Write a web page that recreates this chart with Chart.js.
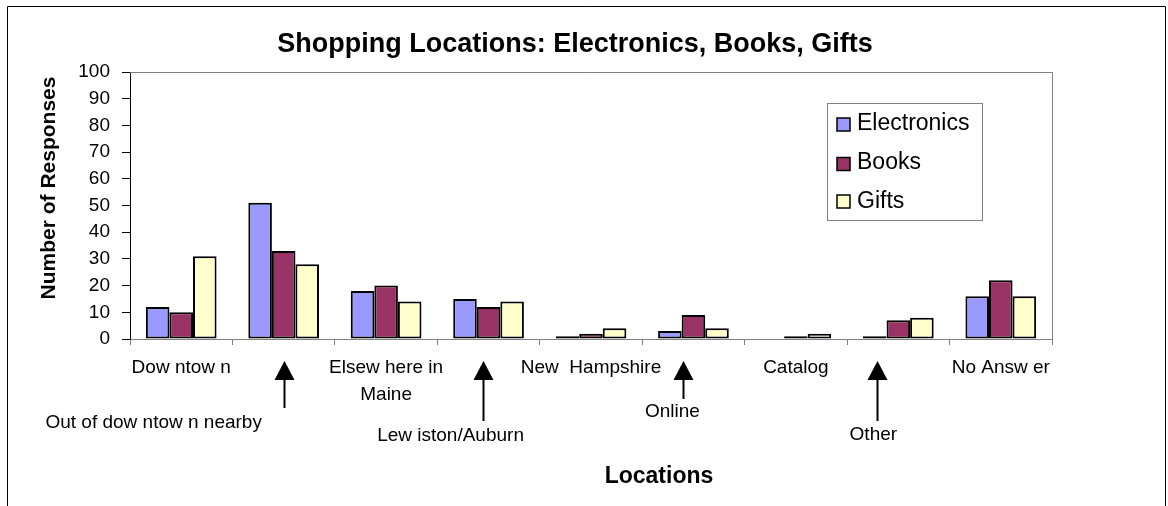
<!DOCTYPE html>
<html>
<head>
<meta charset="utf-8">
<script src="https://cdn.jsdelivr.net/npm/chart.js@4"></script>
<style>
  html, body { margin: 0; padding: 0; background: #ffffff; }
  #wrap { width: 1168px; height: 506px; position: relative; }
</style>
</head>
<body>
<div id="wrap"><canvas id="c" width="1168" height="506"></canvas></div>
<script>
// ---- data ----
const categories = [
  'Dow ntow n',
  'Out of dow ntow n nearby',
  ['Elsew here in', 'Maine'],
  'Lew iston/Auburn',
  'New  Hampshire',
  'Online',
  'Catalog',
  'Other',
  'No Answ er'
];
const seriesNames = ['Electronics', 'Books', 'Gifts'];
const electronics = [12, 51, 18, 15, 1, 3, 0, 1, 16];
const books       = [10, 33, 20, 12, 2, 9, 1, 7, 22];
const gifts       = [31, 28, 14, 14, 4, 4, 2, 8, 16];
const yTicks = [0, 10, 20, 30, 40, 50, 60, 70, 80, 90, 100];
const chartTitle = 'Shopping Locations: Electronics, Books, Gifts';
const yTitle = 'Number of Responses';
const xTitle = 'Locations';

// ---- styles ----
const colors = ['#9999FF', '#993366', '#FFFFCC'];
const FONT = "'Liberation Sans', Arial, sans-serif";

// arrow annotations for the categories whose labels sit below the axis
const annot = {
  1: { arrowDx: 0,   lineEnd: 408, textDx: -130, textY: 423 },
  3: { arrowDx: -6,  lineEnd: 421, textDx: -38,  textY: 436 },
  5: { arrowDx: -10, lineEnd: 399, textDx: -21,  textY: 412 },
  7: { arrowDx: -21, lineEnd: 421, textDx: -25,  textY: 435 }
};

function labelText(l) { return Array.isArray(l) ? l.join(' ') : l; }

const decor = {
  id: 'decor',
  beforeDraw(chart) {
    const ctx = chart.ctx;
    ctx.save();
    ctx.fillStyle = '#ffffff';
    ctx.fillRect(0, 0, chart.width, chart.height);
    ctx.strokeStyle = '#000000';
    ctx.lineWidth = 1;
    ctx.beginPath();
    ctx.moveTo(7.5, 520);
    ctx.lineTo(7.5, 6.5);
    ctx.lineTo(1165.5, 6.5);
    ctx.lineTo(1165.5, 520);
    ctx.stroke();
    ctx.restore();
  },
  afterDraw(chart) {
    const ctx = chart.ctx;
    const ca = chart.chartArea;
    const x = chart.scales.x;
    ctx.save();
    // plot area border (top and right), gray
    ctx.strokeStyle = '#808080';
    ctx.lineWidth = 1;
    ctx.beginPath();
    ctx.moveTo(ca.left, Math.round(ca.top) + 0.5);
    ctx.lineTo(Math.round(ca.right) + 0.5, Math.round(ca.top) + 0.5);
    ctx.lineTo(Math.round(ca.right) + 0.5, ca.bottom);
    ctx.stroke();

    // title
    ctx.fillStyle = '#000000';
    ctx.font = 'bold 27px ' + FONT;
    ctx.textAlign = 'center';
    ctx.textBaseline = 'alphabetic';
    ctx.fillText(chartTitle, 575, 52);

    // y title
    ctx.save();
    ctx.translate(55, 188);
    ctx.rotate(-Math.PI / 2);
    ctx.font = 'bold 21px ' + FONT;
    ctx.textAlign = 'center';
    ctx.textBaseline = 'alphabetic';
    ctx.fillText(yTitle, 0, 0);
    ctx.restore();

    // x title
    ctx.font = 'bold 23px ' + FONT;
    ctx.textAlign = 'center';
    ctx.textBaseline = 'alphabetic';
    ctx.fillText(xTitle, 659, 483);

    // legend
    ctx.fillStyle = '#ffffff';
    ctx.fillRect(827.5, 103.5, 155, 117);
    ctx.strokeStyle = '#808080';
    ctx.lineWidth = 1;
    ctx.strokeRect(827.5, 103.5, 155, 117);
    const sw = [124.5, 164, 201.5];
    const bl = [130, 169, 208];
    chart.data.datasets.forEach((ds, i) => {
      ctx.fillStyle = ds.backgroundColor;
      ctx.fillRect(837, sw[i] - 6.5, 13, 13);
      ctx.strokeStyle = '#000000';
      ctx.lineWidth = 1.5;
      ctx.strokeRect(837, sw[i] - 6.5, 13, 13);
      ctx.fillStyle = '#000000';
      ctx.font = '23px ' + FONT;
      ctx.textAlign = 'left';
      ctx.textBaseline = 'alphabetic';
      ctx.fillText(ds.label, 857, bl[i]);
    });

    // arrows + staggered labels
    Object.keys(annot).forEach(k => {
      const i = +k;
      const a = annot[i];
      const cx = x.getPixelForValue(i);
      const ax = Math.round(cx + a.arrowDx) + 0.5;
      ctx.fillStyle = '#000000';
      ctx.beginPath();
      ctx.moveTo(ax, 361);
      ctx.lineTo(ax - 10, 380);
      ctx.lineTo(ax + 10, 380);
      ctx.closePath();
      ctx.fill();
      ctx.strokeStyle = '#000000';
      ctx.lineWidth = 2;
      ctx.beginPath();
      ctx.moveTo(ax, 379);
      ctx.lineTo(ax, a.lineEnd);
      ctx.stroke();
      ctx.font = '19px ' + FONT;
      ctx.textAlign = 'center';
      ctx.textBaseline = 'middle';
      ctx.fillText(labelText(categories[i]), cx + a.textDx, a.textY);
    });
    ctx.restore();
  }
};

const datasets = [electronics, books, gifts].map((d, i) => ({
  label: seriesNames[i],
  data: d,
  backgroundColor: colors[i],
  borderColor: '#000000',
  borderWidth: 2,
  borderSkipped: false,
  categoryPercentage: 0.69,
  barPercentage: 1.0
}));

new Chart(document.getElementById('c'), {
  type: 'bar',
  data: { labels: categories, datasets },
  options: {
    responsive: false,
    animation: false,
    devicePixelRatio: 1,
    layout: { padding: { top: 72, right: 116, left: 0, bottom: 0 } },
    plugins: {
      legend: { display: false },
      title: { display: false },
      tooltip: { enabled: false }
    },
    scales: {
      x: {
        offset: true,
        afterFit(s) { s.height = 167; },
        grid: { offset: true, drawOnChartArea: false, drawTicks: true, tickLength: 6, color: '#808080' },
        border: { display: true, color: '#808080', width: 1 },
        ticks: {
          autoSkip: false, maxRotation: 0, minRotation: 0, padding: 9,
          color: '#000000',
          font: { family: FONT, size: 19, lineHeight: 1.42 },
          callback(v, i) { return i % 2 === 0 ? this.getLabelForValue(v) : ''; }
        }
      },
      y: {
        min: 0, max: 100,
        afterFit(s) { s.width = 130; },
        afterBuildTicks(s) { s.ticks = yTicks.map(v => ({ value: v })); },
        grid: { drawOnChartArea: false, drawTicks: true, tickLength: 8, color: '#000000' },
        border: { display: true, color: '#000000', width: 1 },
        ticks: {
          color: '#000000', padding: 12,
          font: { family: FONT, size: 19 }
        }
      }
    }
  },
  plugins: [decor]
});
</script>
</body>
</html>
